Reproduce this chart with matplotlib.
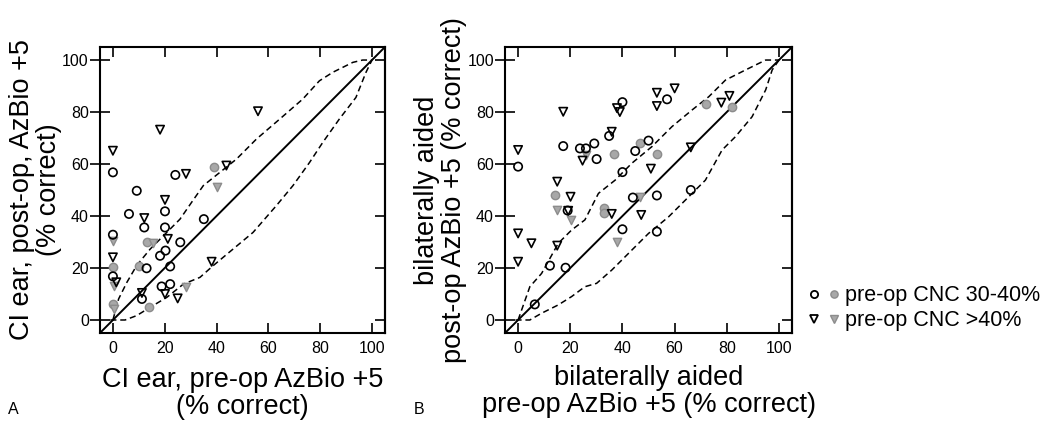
import numpy as np
import matplotlib
matplotlib.use("Agg")
import matplotlib.pyplot as plt
from matplotlib.legend_handler import HandlerTuple

plt.rcParams['font.family'] = ['Liberation Sans', 'DejaVu Sans']

# ---------------- panel A data ----------------
a_circ_x = [0, 0, 0, 9.2, 6.2, 12.1, 13, 11.2, 20.1, 20.1, 20.3, 18.2, 22.1, 18.8, 22.1, 26, 24.1, 35.1]
a_circ_y = [56.8, 32.8, 16.8, 49.7, 40.8, 35.6, 19.9, 8.1, 41.8, 35.6, 26.7, 24.7, 20.6, 12.9, 13.8, 29.9, 55.8, 38.8]
a_gcirc_x = [0, 0, 13.1, 9.9, 14.1, 39.1]
a_gcirc_y = [20.5, 6.2, 29.9, 20.9, 5.1, 59]
a_tri_x = [0, 0, 1.3, 18.2, 28.2, 43.8, 56, 20.1, 12.1, 21.2, 11.2, 20.1, 25, 38.1]
a_tri_y = [65.1, 24.1, 14.5, 73.2, 56.2, 59.4, 80.3, 46.2, 39.2, 31.2, 10.4, 10, 8.3, 22.4]
a_gtri_x = [0, 0.3, 0.3, 15.6, 40, 28.2]
a_gtri_y = [30.5, 13.2, 4.2, 29.6, 51.3, 12.6]

a_up_x = [0, 2.2, 5.4, 9.2, 14.4, 20.8, 25.9, 30.4, 34.9, 41.3, 47.7, 55.4, 64.4, 73.3, 79.7, 84.9, 92.6, 96.4, 100]
a_up_y = [0, 8.1, 14.5, 21, 27.3, 33.7, 38.8, 45.3, 51.7, 56.8, 61.9, 69.6, 77.3, 85, 92, 95.3, 99.1, 100, 100]
a_lo_x = [-1, 4.7, 9.2, 14.4, 20.8, 27.2, 33.6, 38.7, 46.4, 54.1, 63.1, 69.5, 75.9, 81, 87.4, 93.8, 97.7, 100]
a_lo_y = [0, 0, 1.7, 4.9, 8.7, 13.8, 16.4, 20.9, 27.3, 33.7, 44, 51.7, 60.6, 68.3, 77.3, 85.6, 95.3, 100]

# ---------------- panel B data ----------------
b_circ_x = [0, 17.3, 23.7, 26, 29.2, 30.1, 34.9, 40, 44.9, 50, 57.1, 40, 44, 53.2, 66.2, 53.2, 40, 19, 12.2, 18.2, 6.4]
b_circ_y = [59, 66.9, 66, 66, 67.9, 61.9, 70.8, 83.8, 65, 69, 84.9, 56.9, 47.1, 47.9, 50, 34, 34.9, 42.1, 20.9, 20.1, 6]
b_gcirc_x = [14.1, 32.9, 32.9, 36.9, 46.9, 53.2, 71.9, 82]
b_gcirc_y = [48.1, 43.2, 41, 64, 67.9, 64, 82.9, 82]
b_tri_x = [0, 0, 0, 5.1, 15, 15, 20.1, 17.3, 24.7, 35.9, 37.9, 39, 35.9, 47.2, 50.9, 53.2, 53.2, 60, 77.9, 81, 66.2, 19.2]
b_tri_y = [65.4, 33.3, 22.4, 29.5, 28.6, 53.2, 47.4, 80.1, 61.3, 72.4, 81.5, 80, 40.8, 40.4, 58.2, 87.4, 82.3, 89.1, 83.6, 86.2, 66.4, 42]
b_gtri_x = [15, 20.3, 26, 37.9, 46.8]
b_gtri_y = [42.3, 38.5, 63.5, 29.9, 47.4]

b_up_x = [0, 4.5, 9, 15.4, 20.5, 25.6, 30.8, 37.2, 43.6, 51.3, 59, 66.7, 73.1, 79.5, 87.2, 94.9, 100]
b_up_y = [0, 12.8, 17.9, 29.5, 34.6, 38.5, 48.7, 53.8, 60.3, 66.7, 74.4, 80.8, 85.9, 92.3, 96.2, 100, 100]
b_lo_x = [-1, 4.5, 9, 15.4, 20.5, 25.6, 30.1, 35.9, 42.3, 50, 57.7, 65.4, 71.8, 78.2, 83.3, 89.7, 94.9, 97.4, 100]
b_lo_y = [0, 0, 2.6, 5.8, 9, 12.8, 14.1, 19.2, 25.6, 33.3, 39.7, 47.4, 53.8, 65.4, 70.5, 78.2, 88.5, 96.2, 100]

ticks = [0, 20, 40, 60, 80, 100]
gray_face = '#a8a8a8'
gray_edge = '#8c8c8c'
LABEL_FS = 19.5


def draw_panel(ax, cx, cy, gcx, gcy, tx, ty, gtx, gty, ux, uy, lx, ly):
    ax.axline((0, 0), slope=1, color='black', lw=1.4, zorder=1)
    ax.plot(ux, uy, color='black', lw=1.1, ls=(0, (4, 2.5)), zorder=1)
    ax.plot(lx, ly, color='black', lw=1.1, ls=(0, (4, 2.5)), zorder=1)
    ax.scatter(gcx, gcy, s=36, marker='o', facecolor=gray_face, edgecolor=gray_edge, lw=1.0, zorder=2)
    ax.scatter(gtx, gty, s=36, marker='v', facecolor=gray_face, edgecolor=gray_edge, lw=1.0, zorder=2)
    ax.scatter(cx, cy, s=36, marker='o', facecolor='none', edgecolor='black', lw=1.2, zorder=3)
    ax.scatter(tx, ty, s=36, marker='v', facecolor='none', edgecolor='black', lw=1.2, zorder=3)
    ax.set_xlim(-5, 105)
    ax.set_ylim(-5, 105)
    ax.set_xticks(ticks)
    ax.set_yticks(ticks)
    ax.tick_params(axis='x', direction='in', length=7, width=1.2, labelsize=11.5, pad=6, top=True)
    ax.tick_params(axis='y', direction='inout', length=14, width=1.2, labelsize=11.5, pad=1)
    # right-hand ticks point inward only
    sec = ax.secondary_yaxis('right')
    sec.set_yticks(ticks)
    sec.tick_params(direction='in', length=7, width=1.2, labelright=False)
    sec.spines['right'].set_linewidth(1.5)
    for s in ax.spines.values():
        s.set_linewidth(1.5)


fig = plt.figure(figsize=(10.5, 4.3), dpi=100)
axA = fig.add_axes([0.0952, 0.2256, 0.2714, 0.665])
axB = fig.add_axes([0.481, 0.2256, 0.2733, 0.665])

draw_panel(axA, a_circ_x, a_circ_y, a_gcirc_x, a_gcirc_y, a_tri_x, a_tri_y,
           a_gtri_x, a_gtri_y, a_up_x, a_up_y, a_lo_x, a_lo_y)
draw_panel(axB, b_circ_x, b_circ_y, b_gcirc_x, b_gcirc_y, b_tri_x, b_tri_y,
           b_gtri_x, b_gtri_y, b_up_x, b_up_y, b_lo_x, b_lo_y)

axA.set_xlabel("CI ear, pre-op AzBio +5\n(% correct)", fontsize=LABEL_FS, linespacing=1.05, labelpad=8)
axA.set_ylabel("CI ear, post-op, AzBio +5\n(% correct)", fontsize=LABEL_FS, linespacing=1.05, labelpad=0)
axB.set_xlabel("bilaterally aided\npre-op AzBio +5 (% correct)", fontsize=LABEL_FS, linespacing=1.05, labelpad=6)
axB.set_ylabel("bilaterally aided\npost-op AzBio +5 (% correct)", fontsize=LABEL_FS, linespacing=1.05, labelpad=0)

fig.text(0.008, 0.037, "A", fontsize=11.5)
fig.text(0.394, 0.037, "B", fontsize=11.5)

# legend with paired open/gray markers
h_oc = plt.Line2D([], [], ls='none', marker='o', ms=5.2, mfc='none', mec='black', mew=1.3)
h_gc = plt.Line2D([], [], ls='none', marker='o', ms=5.2, mfc=gray_face, mec=gray_edge, mew=1.0)
h_ot = plt.Line2D([], [], ls='none', marker='v', ms=5.2, mfc='none', mec='black', mew=1.3)
h_gt = plt.Line2D([], [], ls='none', marker='v', ms=5.2, mfc=gray_face, mec=gray_edge, mew=1.0)
fig.legend([(h_oc, h_gc), (h_ot, h_gt)], ["pre-op CNC 30-40%", "pre-op CNC >40%"],
           handler_map={tuple: HandlerTuple(ndivide=None, pad=0.6)},
           loc='center left', bbox_to_anchor=(0.757, 0.283), frameon=False,
           fontsize=15.5, handlelength=1.3, handletextpad=0.35, labelspacing=0.2,
           borderpad=0.2)

fig.savefig("out.png", dpi=100)
